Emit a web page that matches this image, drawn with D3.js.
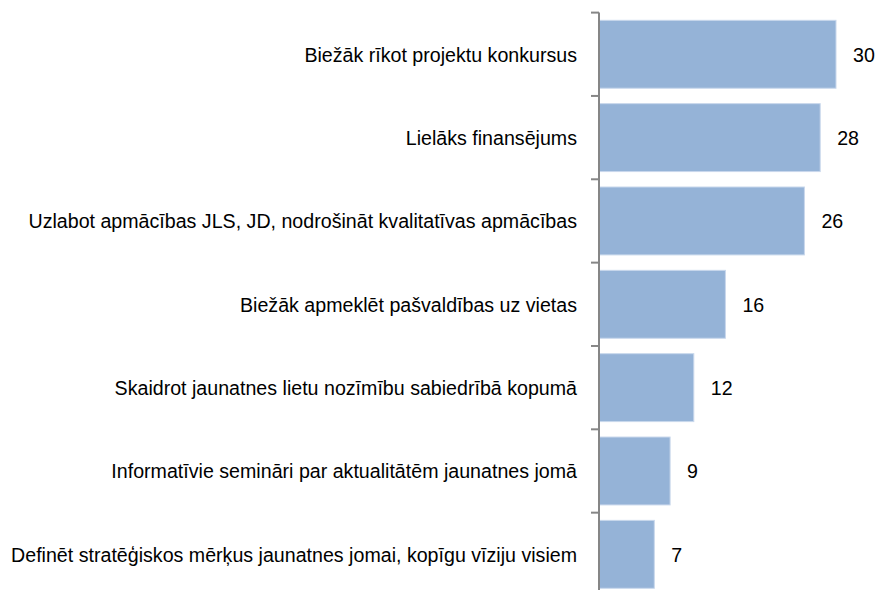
<!DOCTYPE html>
<html>
<head>
<meta charset="utf-8">
<script src="https://cdn.jsdelivr.net/npm/d3@7"></script>
<style>
  html, body { margin: 0; padding: 0; background: #ffffff; }
  svg { display: block; font-family: "Liberation Sans", Arial, sans-serif; }
</style>
</head>
<body>
<svg id="chart" width="875" height="590"></svg>
<script>
// Survey answers: proposals, with the number of respondents who named each
const categories = [
  "Biežāk rīkot projektu konkursus",
  "Lielāks finansējums",
  "Uzlabot apmācības JLS, JD, nodrošināt kvalitatīvas apmācības",
  "Biežāk apmeklēt pašvaldības uz vietas",
  "Skaidrot jaunatnes lietu nozīmību sabiedrībā kopumā",
  "Informatīvie semināri par aktualitātēm jaunatnes jomā",
  "Definēt stratēģiskos mērķus jaunatnes jomai, kopīgu vīziju visiem"
];
const counts = [30, 28, 26, 16, 12, 9, 7];

const svg = d3.select("#chart");
const axisX = 599;
const plotTop = 12.6;
const plotBottom = 596;
const fontSize = 21;
const squeeze = 0.935;   // slightly condensed lettering

const x = d3.scaleLinear().domain([0, 30]).range([axisX, 836]);
const y = d3.scaleBand().domain(categories).range([plotTop, plotBottom]).padding(0);
const barFrac = 0.815;
const barH = y.bandwidth() * barFrac;
const barOff = (y.bandwidth() - barH) / 2;

// bars
svg.append("g").selectAll("rect")
  .data(categories)
  .join("rect")
  .attr("x", x(0) + 0.5)
  .attr("y", d => y(d) + barOff)
  .attr("width", (d, i) => x(counts[i]) - x(0) - 0.5)
  .attr("height", barH)
  .attr("fill", "#95b3d7")
  .attr("stroke", "#c9d8ec")
  .attr("stroke-width", 1);

// value labels
svg.append("g").selectAll("text")
  .data(categories)
  .join("text")
  .attr("transform", (d, i) =>
    `translate(${x(counts[i]) + 17},${y(d) + y.bandwidth() / 2}) scale(${squeeze},1)`)
  .attr("dy", "0.35em")
  .attr("font-size", fontSize)
  .attr("fill", "#000")
  .text((d, i) => counts[i]);

// category axis with ticks between bands
const axisG = svg.append("g");
axisG.append("line")
  .attr("x1", axisX).attr("x2", axisX)
  .attr("y1", plotTop).attr("y2", plotBottom)
  .attr("stroke", "#868686").attr("stroke-width", 2);
const boundaries = categories.map(c => y(c));
axisG.selectAll("line.tick")
  .data(boundaries)
  .join("line")
  .attr("class", "tick")
  .attr("x1", axisX - 8).attr("x2", axisX)
  .attr("y1", d => d).attr("y2", d => d)
  .attr("stroke", "#868686").attr("stroke-width", 2);

axisG.selectAll("text")
  .data(categories)
  .join("text")
  .attr("transform", d => `translate(577,${y(d) + y.bandwidth() / 2}) scale(${squeeze},1)`)
  .attr("dy", "0.35em")
  .attr("text-anchor", "end")
  .attr("font-size", fontSize)
  .attr("fill", "#000")
  .text(d => d);
</script>
</body>
</html>
